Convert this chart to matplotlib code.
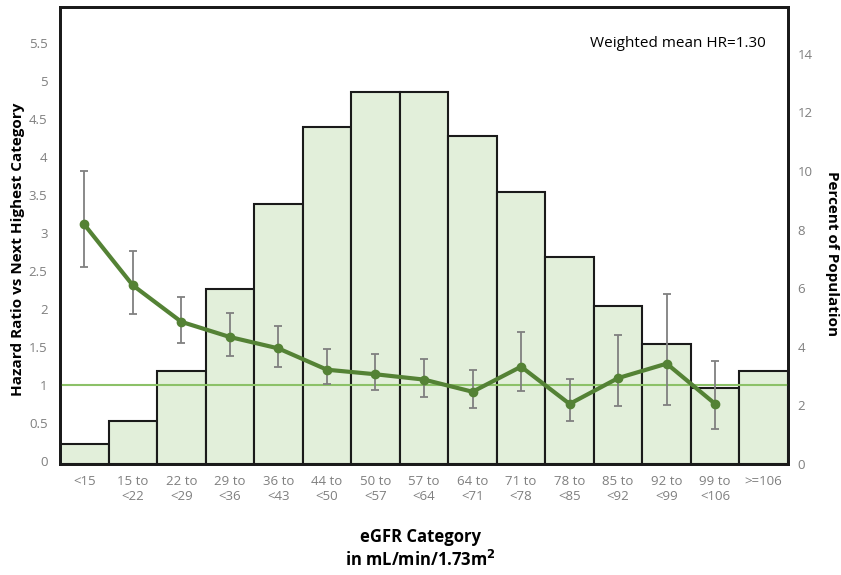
import matplotlib.pyplot as plt
import numpy as np

categories = ['<15', '15 to\n<22', '22 to\n<29', '29 to\n<36', '36 to\n<43', '44 to\n<50',
              '50 to\n<57', '57 to\n<64', '64 to\n<71', '71 to\n<78', '78 to\n<85',
              '85 to\n<92', '92 to\n<99', '99 to\n<106', '>=106']
pct_pop = [0.68, 1.47, 3.18, 5.97, 8.88, 11.52, 12.71, 12.71, 11.21, 9.30, 7.08, 5.39, 4.10, 2.59, 3.18]
hr = [3.11, 2.31, 1.83, 1.63, 1.48, 1.20, 1.14, 1.07, 0.91, 1.24, 0.75, 1.09, 1.28, 0.75]
hr_hi = [3.81, 2.76, 2.16, 1.94, 1.77, 1.47, 1.41, 1.34, 1.19, 1.69, 1.08, 1.66, 2.19, 1.32]
hr_lo = [2.55, 1.93, 1.55, 1.38, 1.23, 1.01, 0.93, 0.845, 0.70, 0.92, 0.53, 0.72, 0.73, 0.42]

plt.rcParams['font.family'] = ['Open Sans', 'DejaVu Sans']

fig = plt.figure(figsize=(8.41, 5.75), dpi=100)
ax = fig.add_axes([60/841, 1-464/575, 728/841, 457/575])
ax2 = ax.twinx()

x = np.arange(len(categories))
# bars go on the secondary axis, so put primary axis on top
ax2.bar(x, pct_pop, width=1.0, color='#E2EFDA', edgecolor='#1a1a1a', linewidth=1.5, zorder=1)
ax2.set_ylim(0, 15.6)
ax2.set_yticks(range(0, 15, 2))

ax.set_zorder(ax2.get_zorder() + 1)
ax.patch.set_visible(False)

ax.axhline(1, color='#8CC168', lw=1.5, zorder=2)
xh = x[:len(hr)]
err = [np.array(hr) - np.array(hr_lo), np.array(hr_hi) - np.array(hr)]
ax.errorbar(xh, hr, yerr=err, fmt='none', ecolor='#808080', elinewidth=1.3, capsize=3, capthick=1.3, zorder=3)
ax.plot(xh, hr, '-o', color='#548235', lw=3, ms=6, zorder=4)

ax.set_xlim(-0.5, len(categories) - 0.5)
ax.set_ylim(-0.04, 5.97)
ax.set_yticks(np.arange(0, 5.6, 0.5))
ax.set_yticklabels(['0', '0.5', '1', '1.5', '2', '2.5', '3', '3.5', '4', '4.5', '5', '5.5'])
ax.set_xticks(x)
ax.set_xticklabels(categories)

for a in (ax, ax2):
    a.tick_params(length=0, colors='#7f7f7f', labelsize=9.5)
    for s in a.spines.values():
        s.set_color('#1a1a1a')
        s.set_linewidth(2)
ax.tick_params(axis='x', pad=8)
ax.tick_params(axis='y', pad=9)
ax2.tick_params(axis='y', pad=7)

ax.set_ylabel('Hazard Ratio vs Next Highest Category', fontsize=11, fontweight='bold', va='center')
ax.yaxis.set_label_coords(-42/728, 0.47)
ax2.set_ylabel('Percent of Population', fontsize=11, fontweight='bold', rotation=-90, va='center')
ax2.yaxis.set_label_coords(1 + 44/728, 0.46)

ax.text(0.97, 0.92, 'Weighted mean HR=1.30', transform=ax.transAxes, ha='right', va='center', fontsize=11)

fig.text(0.5, 1-537/575, 'eGFR Category', ha='center', va='center', fontsize=12, fontweight='bold')
fig.text(0.5, 1-560/575, 'in mL/min/1.73m$^\\mathbf{2}$', ha='center', va='center', fontsize=12, fontweight='bold')

fig.savefig('out.png', dpi=100)
